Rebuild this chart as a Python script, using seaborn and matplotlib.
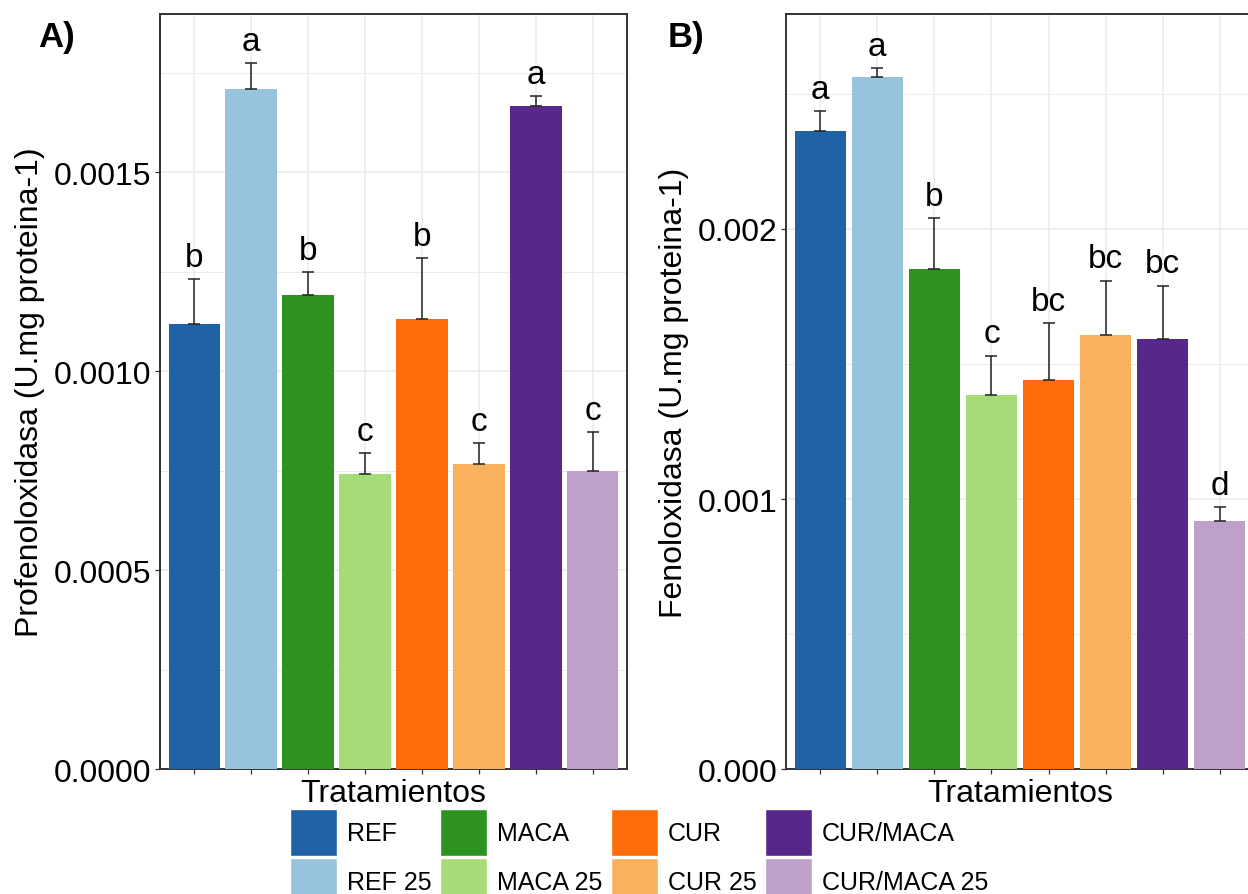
import matplotlib
matplotlib.use("Agg")
import matplotlib.pyplot as plt
from matplotlib.patches import Patch
from matplotlib.ticker import FixedLocator, FormatStrFormatter
import seaborn as sns
import pandas as pd

# ---------------- data ----------------
categories = ["REF", "REF 25", "MACA", "MACA 25", "CUR", "CUR 25", "CUR/MACA", "CUR/MACA 25"]
colors = ["#1F62A5", "#97C3DC", "#2E9221", "#A6DB78", "#FE6B0B", "#FAB15E", "#57278A", "#BEA0CB"]

pro_mean = [0.001119, 0.001710, 0.001192, 0.000742, 0.001131, 0.000767, 0.001667, 0.000750]
pro_se = [0.000113, 0.000065, 0.000058, 0.000053, 0.000154, 0.000053, 0.000025, 0.000098]
pro_letters = ["b", "a", "b", "c", "b", "c", "a", "c"]

fen_mean = [0.002363, 0.002561, 0.001850, 0.001385, 0.001440, 0.001606, 0.001594, 0.000918]
fen_se = [0.000072, 0.000034, 0.000191, 0.000146, 0.000212, 0.000202, 0.000196, 0.000052]
fen_letters = ["a", "a", "b", "c", "bc", "bc", "bc", "d"]

pro_ticks = [0.0, 0.0005, 0.0010, 0.0015]
pro_minor = [0.00025, 0.00075, 0.00125, 0.00175]
fen_ticks = [0.0, 0.001, 0.002]
fen_minor = [0.0005, 0.0015, 0.0025]

# ---------------- style ----------------
sns.set_theme(style="white")
plt.rcParams["font.family"] = ["Liberation Sans", "DejaVu Sans"]
plt.rcParams["text.color"] = "black"

W, H = 1248, 895
fig = plt.figure(figsize=(W / 100, H / 100), dpi=100)

palette = dict(zip(categories, colors))


def panel(rect, mean, se, letters, ylim, ticks, minor, fmt, ylabel, tag, tagx):
    ax = fig.add_axes(rect)
    df = pd.DataFrame({"Tratamientos": categories, "valor": mean})
    sns.barplot(data=df, x="Tratamientos", y="valor", hue="Tratamientos",
                order=categories, hue_order=categories, palette=palette,
                width=0.9, saturation=1, legend=False, linewidth=0, ax=ax, zorder=3)
    xs = list(range(len(categories)))
    ax.errorbar(xs, mean, yerr=[[0] * len(se), se], fmt="none", ecolor="#222222",
                elinewidth=1.1, capsize=4.3, capthick=1.1, zorder=4)
    for x, m, s, lab in zip(xs, mean, se, letters):
        ax.annotate(lab, (x, m + s), xytext=(0, 4.5), textcoords="offset points",
                    ha="center", va="bottom", fontsize=24, color="black", zorder=5)
    ax.set_xlim(-0.6, len(categories) - 0.4)
    ax.set_ylim(*ylim)
    ax.yaxis.set_major_locator(FixedLocator(ticks))
    ax.yaxis.set_minor_locator(FixedLocator(minor))
    ax.yaxis.set_major_formatter(FormatStrFormatter(fmt))
    ax.set_xticks(xs)
    ax.set_xticklabels([])
    ax.grid(True, which="major", color="#EBEBEB", linewidth=1.1, zorder=0)
    ax.grid(True, which="minor", axis="y", color="#EBEBEB", linewidth=0.7, zorder=0)
    ax.set_axisbelow(True)
    ax.tick_params(axis="both", which="major", length=3.8, width=0.9, color="#333333",
                   direction="out", labelsize=23, labelcolor="black", pad=2.5,
                   bottom=True, left=True)
    ax.tick_params(axis="y", which="minor", length=0)
    for sp in ax.spines.values():
        sp.set_visible(True)
        sp.set_color("#333333")
        sp.set_linewidth(1.4)
    ax.set_xlabel("Tratamientos", fontsize=23, labelpad=0, color="black")
    ax.set_ylabel(ylabel, fontsize=23, labelpad=6, color="black")
    fig.text(tagx / W, 1 - 47 / H, tag, fontsize=25, fontweight="bold",
             ha="left", va="baseline", color="black")
    return ax


yb = 1 - 770.3 / H
ht = (770.3 - 15) / H
axA = panel([160 / W, yb, (627 - 160) / W, ht], pro_mean, pro_se, pro_letters,
            (0, 0.0018977), pro_ticks, pro_minor, "%.4f",
            "Profenoloxidasa (U.mg proteina-1)", "A)", 38)
axB = panel([786 / W, yb, (1254 - 786) / W, ht], fen_mean, fen_se, fen_letters,
            (0, 0.002795), fen_ticks, fen_minor, "%.3f",
            "Fenoloxidasa (U.mg proteina-1)", "B)", 668)

handles = [Patch(facecolor=c, edgecolor="white", linewidth=1.0, label=l)
           for c, l in zip(colors, categories)]
fig.legend(handles=handles, ncol=4, loc="upper left",
           bbox_to_anchor=(290 / W, 1 - 810 / H), frameon=False, fontsize=18,
           labelcolor="black",
           handlelength=1.88, handleheight=2.515, handletextpad=0.4,
           labelspacing=0.08, columnspacing=0.33, borderpad=0, borderaxespad=0)

fig.savefig("out.png", dpi=100)
